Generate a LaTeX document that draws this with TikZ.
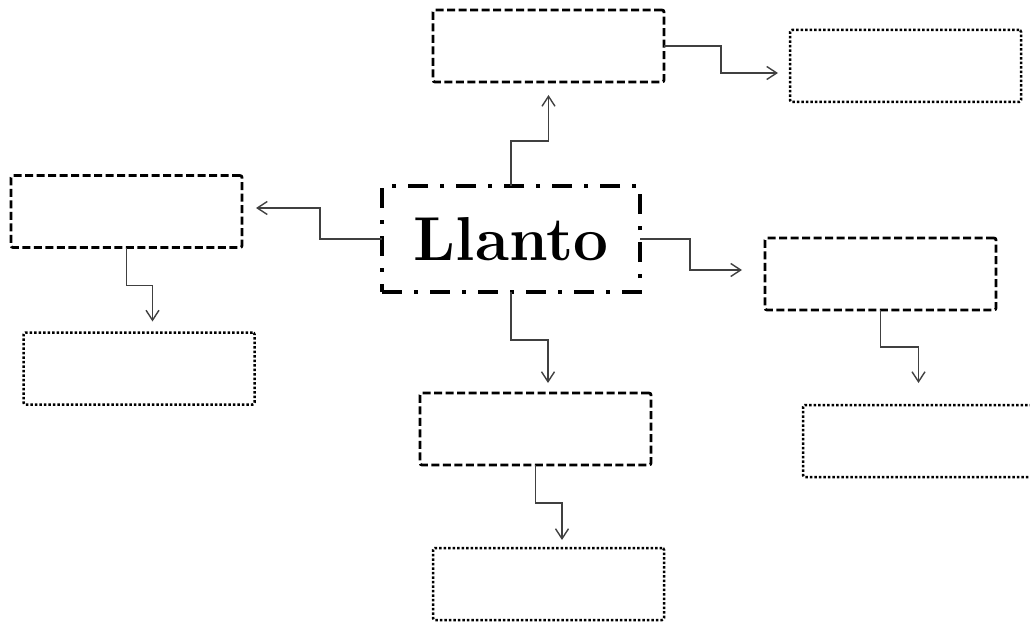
\documentclass[tikz,border=0pt]{standalone}
\usepackage{fontspec}
\usepackage{tikz}
\usetikzlibrary{positioning,arrows.meta,calc}
\tikzset{
  >={Straight Barb[length=10pt,width=13pt]},
  mainbox/.style={draw,line width=3.5pt,
    dash pattern=on 20pt off 12pt on 4pt off 12pt,
    minimum width=258pt,minimum height=106pt,inner sep=0pt,outer sep=0pt},
  dashbox/.style={draw,line width=2.8pt,dash pattern=on 8pt off 3.5pt,
    rounded corners=2pt,minimum width=231pt,minimum height=72pt,
    inner sep=0pt,outer sep=0pt},
  dotbox/.style={draw,line width=2.5pt,dash pattern=on 2.5pt off 2pt,
    rounded corners=2pt,minimum width=231pt,minimum height=72pt,
    inner sep=0pt,outer sep=0pt},
  link/.style={->,line width=1.4pt,draw=black!75},
}

\begin{document}
\begin{tikzpicture}[x=1pt,y=1pt]

\useasboundingbox (0,0) rectangle (1030,-623);

\node[mainbox] (llanto) at (511,-239)
  {\fontsize{62}{62}\selectfont\bfseries Llanto};

\node[dashbox,above=104pt of llanto,xshift=37.5pt] (top) {};
\node[dotbox,right=126pt of top,yshift=-20pt] (topright) {};
\node[dashbox,left=140pt of llanto,yshift=27.5pt] (left) {};
\node[dotbox,below=85pt of left,xshift=12.5pt] (leftbelow) {};
\node[dashbox,right=125pt of llanto,yshift=-35pt] (right) {};
\node[dotbox,below=95pt of right,xshift=38pt] (rightbelow) {};
\node[dashbox,below=101pt of llanto,xshift=24.5pt] (bottom) {};
\node[dotbox,below=83pt of bottom,xshift=13pt] (bottombelow) {};

\draw[link,shorten >=13pt] (llanto.north) -- ++(0,45) -| (top.south);
\draw[link,shorten >=12pt] (top.east) -- ++(57,0) |- ([yshift=-7pt]topright.west);
\draw[link,shorten >=14pt] (llanto.west) -- ++(-62,0) |- ([yshift=3.5pt]left.east);
\draw[link,shorten >=11pt] (left.south) -- ++(0,-38) -| ([xshift=13.5pt]leftbelow.north);
\draw[link,shorten >=23pt] (llanto.east) -- ++(50,0) |- ([yshift=4pt]right.west);
\draw[link,shorten >=22pt] (right.south) -- ++(0,-37) -| (rightbelow.north);
\draw[link,shorten >=10pt] (llanto.south) -- ++(0,-48) -| ([xshift=12.5pt]bottom.north);
\draw[link,shorten >=8pt] (bottom.south) -- ++(0,-38) -| ([xshift=13.5pt]bottombelow.north);

\end{tikzpicture}
\end{document}
